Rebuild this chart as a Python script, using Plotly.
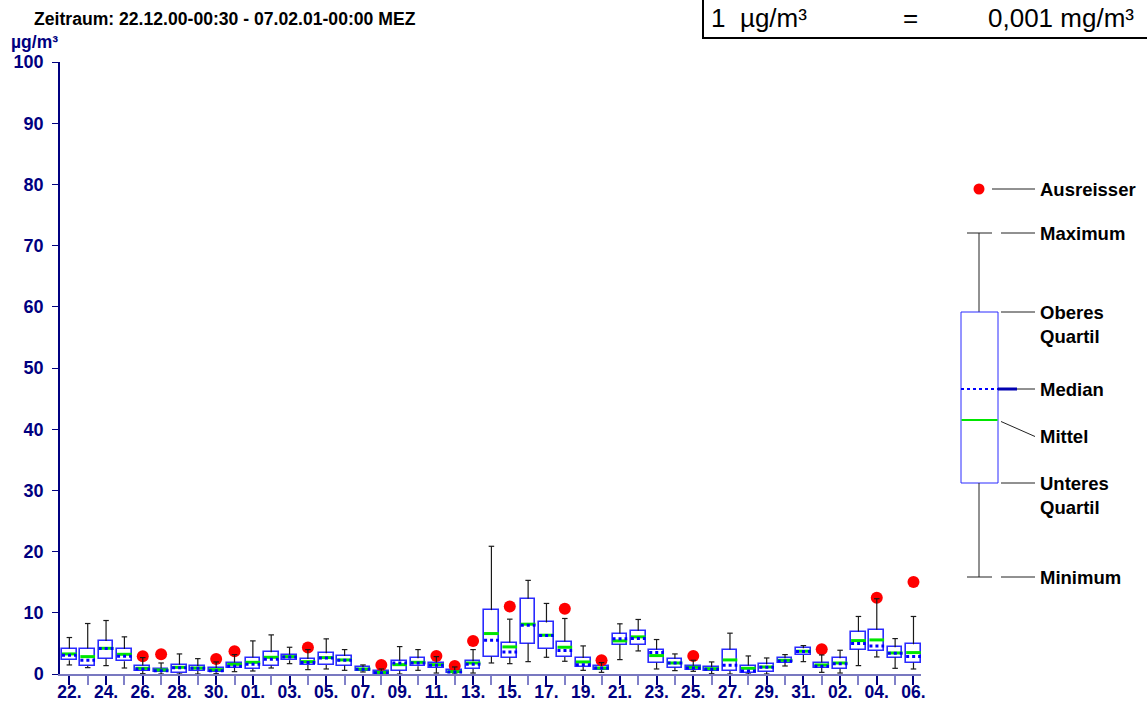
import plotly.graph_objects as go

# ---------------- data ----------------
day_labels = ["22", "23", "24", "25", "26", "27", "28", "29", "30", "31",
              "01", "02", "03", "04", "05", "06", "07", "08", "09", "10",
              "11", "12", "13", "14", "15", "16", "17", "18", "19", "20",
              "21", "22", "23", "24", "25", "26", "27", "28", "29", "30",
              "31", "01", "02", "03", "04", "05", "06"]

q_min = [1.48, 1.04, 1.37, 0.98, 0.05, 0.00, 0.00, 0.00, 0.05, 0.38,
         0.49, 0.98, 1.69, 0.71, 0.82, 0.60, 0.33, 0.00, 0.00, 0.60,
         0.16, 0.00, 0.16, 1.80, 1.69, 2.02, 2.73, 2.08, 0.60, 0.27,
         2.35, 3.77, 0.82, 0.55, 0.44, 0.05, 0.00, 0.00, 0.00, 1.31,
         2.02, 0.27, 0.16, 1.37, 2.79, 0.93, 0.82]
q1 = [2.24, 1.31, 2.51, 2.08, 0.49, 0.27, 0.22, 0.49, 0.27, 0.98,
      0.87, 1.37, 2.24, 1.48, 1.48, 1.37, 0.44, 0.05, 0.55, 1.26,
      1.04, 0.11, 0.82, 2.84, 2.68, 4.97, 4.10, 2.79, 1.20, 0.66,
      4.81, 4.75, 1.86, 1.04, 0.66, 0.49, 0.49, 0.16, 0.38, 1.86,
      3.11, 1.04, 0.87, 3.99, 3.77, 2.68, 1.86]
median = [3.06, 2.24, 4.15, 2.90, 0.82, 0.55, 1.04, 0.93, 0.55, 1.26,
          1.58, 2.40, 2.79, 1.86, 2.62, 2.24, 0.77, 0.22, 1.80, 1.80,
          1.42, 0.33, 1.58, 5.52, 3.61, 7.98, 6.28, 3.83, 1.53, 0.98,
          5.74, 5.79, 3.50, 1.80, 0.98, 0.77, 1.42, 0.49, 1.09, 2.13,
          3.66, 1.26, 1.69, 4.97, 4.59, 3.39, 2.84]
mean = [3.28, 2.84, 4.20, 3.22, 0.93, 0.66, 1.09, 0.98, 0.71, 1.58,
        1.91, 2.73, 2.84, 2.02, 2.68, 2.30, 0.82, 0.27, 1.53, 1.91,
        1.53, 0.38, 1.80, 6.61, 4.43, 8.14, 6.34, 4.37, 1.97, 0.98,
        5.41, 6.07, 3.01, 1.80, 1.09, 0.87, 2.30, 0.93, 1.15, 2.24,
        3.72, 1.48, 1.80, 5.46, 5.57, 3.44, 3.50]
q3 = [4.15, 4.15, 5.41, 4.10, 1.37, 0.87, 1.53, 1.31, 0.98, 1.86,
      2.68, 3.55, 3.17, 2.46, 3.39, 2.95, 1.09, 0.44, 2.19, 2.57,
      1.86, 0.60, 2.08, 10.44, 5.14, 12.30, 8.42, 5.30, 2.62, 1.31,
      6.61, 7.05, 3.99, 2.51, 1.31, 1.09, 3.99, 1.37, 1.58, 2.57,
      4.21, 1.86, 2.57, 6.94, 7.21, 4.37, 4.86]
q_max = [5.96, 8.25, 8.74, 6.07, 2.68, 1.80, 3.28, 2.51, 1.97, 3.17,
         5.41, 6.39, 4.37, 3.99, 5.74, 3.99, 1.48, 0.82, 4.48, 3.99,
         2.84, 1.15, 3.99, 20.87, 8.96, 15.30, 11.53, 9.07, 4.59, 1.86,
         8.20, 8.91, 5.63, 3.28, 2.24, 1.97, 6.67, 2.95, 2.62, 3.17,
         4.64, 3.11, 3.88, 9.40, 12.30, 5.79, 9.40]
outlier = [None, None, None, None, 2.90, 3.22, None, None, 2.46, 3.72,
           None, None, None, 4.32, None, None, None, 1.48, None, None,
           2.95, 1.31, 5.41, None, 11.04, None, None, 10.66, None, 2.24,
           None, None, None, None, 2.95, None, None, None, None, None,
           None, 4.04, None, None, 12.46, None, 15.03]

y_tick_values = [0, 10, 20, 30, 40, 50, 60, 70, 80, 90, 100]

# ---------------- styling / geometry ----------------
NAVY = "#000080"
BOX_BLUE = "#2a2aff"
GREEN = "#00e600"
FONT = "Liberation Sans, Arial, sans-serif"
W, H = 1147, 703
ML, MR, MT, MB = 60, 226, 62, 29
PW, PH = W - ML - MR, H - MT - MB
HALF_BOX = 0.4
HALF_CAP = 0.15

idx = list(range(len(day_labels)))

def xp(px):
    return (px - ML) / PW

def yp(py):
    return (H - MB - py) / PH

# whiskers + caps
wx, wy = [], []
for i in idx:
    wx += [i, i, None, i, i, None,
           i - HALF_CAP, i + HALF_CAP, None, i - HALF_CAP, i + HALF_CAP, None]
    wy += [q_min[i], q1[i], None, q3[i], q_max[i], None,
           q_min[i], q_min[i], None, q_max[i], q_max[i], None]

mx, my, dx, dy = [], [], [], []
for i in idx:
    mx += [i - HALF_BOX, i + HALF_BOX, None]
    my += [mean[i], mean[i], None]
    dx += [i - HALF_BOX, i + HALF_BOX, None]
    dy += [median[i], median[i], None]

ox = [i for i in idx if outlier[i] is not None]
oy = [outlier[i] for i in idx if outlier[i] is not None]

fig = go.Figure()
fig.add_trace(go.Scatter(x=ox, y=oy, mode="markers",
                         marker=dict(color="#ff0000", size=12, line=dict(width=0)),
                         hoverinfo="skip"))
fig.add_trace(go.Bar(x=idx, base=q1, y=[b - a for a, b in zip(q1, q3)],
                     width=2 * HALF_BOX,
                     marker=dict(color="white", line=dict(color=BOX_BLUE, width=1.6)),
                     hoverinfo="skip"))
fig.add_trace(go.Scatter(x=wx, y=wy, mode="lines",
                         line=dict(color="#1a1a1a", width=1.2), hoverinfo="skip"))
fig.add_trace(go.Scatter(x=mx, y=my, mode="lines",
                         line=dict(color=GREEN, width=3), hoverinfo="skip"))
fig.add_trace(go.Scatter(x=dx, y=dy, mode="lines",
                         line=dict(color="#0000ff", width=3, dash="dot"), hoverinfo="skip"))

even = [i for i in idx if i % 2 == 0]
odd = [i for i in idx if i % 2 == 1]

fig.update_layout(
    width=W, height=H,
    margin=dict(l=ML, r=MR, t=MT, b=MB, autoexpand=False),
    paper_bgcolor="white", plot_bgcolor="white",
    showlegend=False,
    bargap=0,
    xaxis=dict(range=[-0.51, 46.41], showgrid=False, zeroline=False,
               showline=True, linecolor="#7878c0", linewidth=2,
               tickmode="array", tickvals=even,
               ticktext=[day_labels[i] + "." for i in even],
               ticks="outside", ticklen=9, tickwidth=1.5, tickcolor=NAVY,
               ticklabelstandoff=-8,
               tickfont=dict(family=FONT, size=17.5, color=NAVY, weight="bold"),
               minor=dict(tickmode="array", tickvals=odd, ticks="outside",
                          ticklen=9, tickwidth=1.5, tickcolor="#8080c8"),
               automargin=False, fixedrange=True),
    yaxis=dict(range=[0, 100], showgrid=False, zeroline=False,
               showline=True, linecolor=NAVY, linewidth=1.5,
               tickmode="array", tickvals=y_tick_values,
               ticks="outside", ticklen=6, tickcolor=NAVY,
               ticklabelstandoff=5,
               tickfont=dict(family=FONT, size=18, color=NAVY, weight="bold"),
               automargin=False, fixedrange=True),
)

annotations = []
shapes = []

# title and unit
annotations.append(dict(x=xp(32), y=yp(19), xref="paper", yref="paper",
                        text="Zeitraum: 22.12.00-00:30 - 07.02.01-00:00 MEZ",
                        showarrow=False, xanchor="left", yanchor="middle",
                        font=dict(family=FONT, size=17.6, color="black", weight="bold")))
annotations.append(dict(x=xp(9), y=yp(42), xref="paper", yref="paper",
                        text="µg/m³", showarrow=False, xanchor="left", yanchor="middle",
                        font=dict(family=FONT, size=17.5, color=NAVY, weight="bold")))

# conversion box (top right)
shapes.append(dict(type="rect", xref="paper", yref="paper",
                   x0=xp(703), x1=xp(1160), y0=yp(38), y1=yp(-10),
                   line=dict(color="black", width=2), fillcolor="white", layer="above"))
box_font = dict(family=FONT, size=26, color="black")
annotations.append(dict(x=xp(709), y=yp(18), xref="paper", yref="paper", text="1  µg/m³",
                        showarrow=False, xanchor="left", yanchor="middle", font=box_font))
annotations.append(dict(x=xp(910), y=yp(18), xref="paper", yref="paper", text="=",
                        showarrow=False, xanchor="center", yanchor="middle", font=box_font))
annotations.append(dict(x=xp(986), y=yp(18), xref="paper", yref="paper", text="0,001 mg/m³",
                        showarrow=False, xanchor="left", yanchor="middle", font=box_font))

# explanatory legend
def seg(x0, y0, x1, y1, color="#222222", width=1, dash="solid"):
    shapes.append(dict(type="line", xref="paper", yref="paper",
                       x0=xp(x0), y0=yp(y0), x1=xp(x1), y1=yp(y1),
                       line=dict(color=color, width=width, dash=dash)))

LX = 979
shapes.append(dict(type="circle", xref="paper", yref="paper",
                   x0=xp(LX - 5.5), x1=xp(LX + 5.5), y0=yp(194.5), y1=yp(183.5),
                   fillcolor="#ff0000", line=dict(width=0)))
seg(992, 189, 1035, 189)
# maximum
seg(967, 233, 992, 233)
seg(1001, 233, 1035, 233)
seg(LX, 233, LX, 312)
# box
shapes.append(dict(type="rect", xref="paper", yref="paper",
                   x0=xp(961), x1=xp(998), y0=yp(483), y1=yp(312),
                   line=dict(color=BOX_BLUE, width=1), fillcolor="white"))
seg(1001, 312, 1035, 312)
# median
seg(961, 389, 998, 389, color="#0000ff", width=2, dash="dot")
seg(998, 389, 1017, 389, color="#0000b0", width=3)
seg(1017, 389, 1035, 389)
# mean
seg(961.5, 420, 997.5, 420, color=GREEN, width=2)
seg(1001, 421.5, 1035, 436.5)
# lower quartile / minimum
seg(1001, 483, 1035, 483)
seg(LX, 483, LX, 577)
seg(967, 577, 992, 577)
seg(1001, 577, 1035, 577)

leg_font = dict(family=FONT, size=18.5, color="black", weight="bold")
for txt, py, anchor in [("Ausreisser", 189, "middle"), ("Maximum", 233, "middle"),
                        ("Oberes<br>Quartil", 300, "top"), ("Median", 389, "middle"),
                        ("Mittel", 436, "middle"), ("Unteres<br>Quartil", 471, "top"),
                        ("Minimum", 577, "middle")]:
    annotations.append(dict(x=xp(1038), y=yp(py), xref="paper", yref="paper", text=txt,
                            showarrow=False, xanchor="left", yanchor=anchor, align="left",
                            font=leg_font))

fig.update_layout(shapes=shapes, annotations=annotations)
fig.write_html("out.html")
